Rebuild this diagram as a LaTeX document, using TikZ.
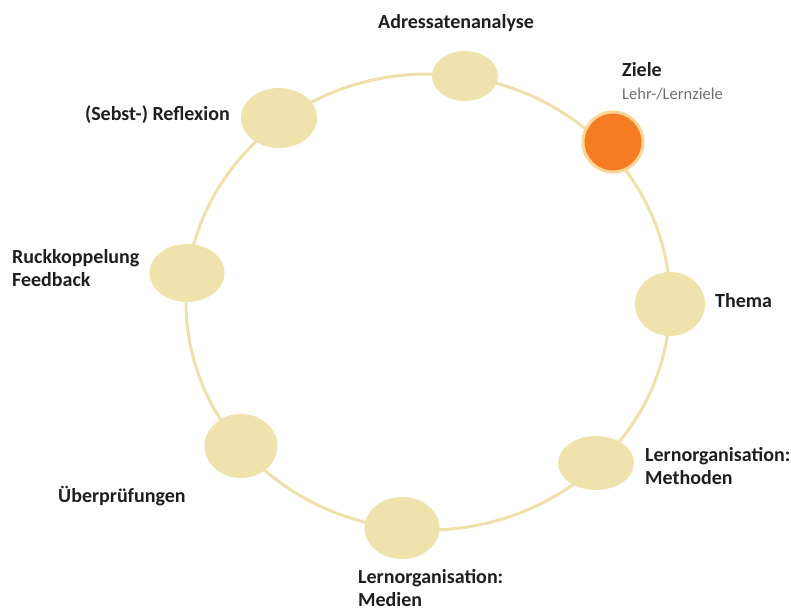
\documentclass[tikz,border=0pt]{standalone}
\usepackage{fontspec}
\setmainfont{Carlito}
\usetikzlibrary{shapes.geometric}
\definecolor{ringcol}{RGB}{238,224,170}
\definecolor{nodecol}{RGB}{240,226,172}
\definecolor{orangecol}{RGB}{246,124,34}
\definecolor{halocol}{RGB}{252,214,150}
\definecolor{txtcol}{RGB}{30,30,30}
\definecolor{subcol}{RGB}{110,110,110}
\tikzset{
  ring/.style={draw=ringcol, line width=3pt},
  stage/.style={ellipse, fill=nodecol, inner sep=0pt, minimum width=72pt, minimum height=58pt},
  active/.style={circle, fill=orangecol, draw=halocol, line width=3pt, inner sep=0pt, minimum size=60pt},
  lbl/.style={font=\bfseries\fontsize{20}{22.5}\selectfont, text=txtcol, inner sep=0pt, align=left},
  sublbl/.style={font=\fontsize{16.5}{18}\selectfont, text=subcol, inner sep=0pt}
}
\begin{document}
\begin{tikzpicture}[x=1pt,y=-1pt]
\useasboundingbox (0,0) rectangle (791,612);
\coordinate (c) at (428,302);
\draw[ring] (c) ellipse [x radius=242pt, y radius=228pt];
\node[stage, minimum width=66pt, minimum height=50pt] (adr) at (465,76) {};
\node[active] (ziele) at (613,142) {};
\node[stage, minimum width=70pt, minimum height=64pt] (thema) at (670,304) {};
\node[stage, minimum width=76pt, minimum height=54pt] (meth) at (596,463) {};
\node[stage, minimum width=75pt, minimum height=62pt] (med) at (402,528) {};
\node[stage, minimum width=73pt, minimum height=64pt] (ueb) at (241,446) {};
\node[stage, minimum width=75pt, minimum height=58pt] (rueck) at (187,273) {};
\node[stage, minimum width=76pt, minimum height=60pt] (refl) at (279,118) {};

\node[lbl] (tadr) at (456,23) {Adressatenanalyse};
\node[lbl, anchor=west] (tziele) at (622,70) {Ziele};
\node[sublbl, anchor=west] (tzsub) at (622,94) {Lehr-/Lernziele};
\node[lbl, anchor=west] (tthema) at (715,301) {Thema};
\node[lbl, anchor=west] (tmeth) at (645,466) {Lernorganisation:\\Methoden};
\node[lbl, anchor=west] (tmed) at (358,588) {Lernorganisation:\\Medien};
\node[lbl, anchor=west] (tueb) at (58,496) {Überprüfungen};
\node[lbl, anchor=west] (trueck) at (12,268) {Ruckkoppelung\\Feedback};
\node[lbl, anchor=east] (trefl) at (230,115) {(Sebst-) Reflexion};
\end{tikzpicture}
\end{document}
